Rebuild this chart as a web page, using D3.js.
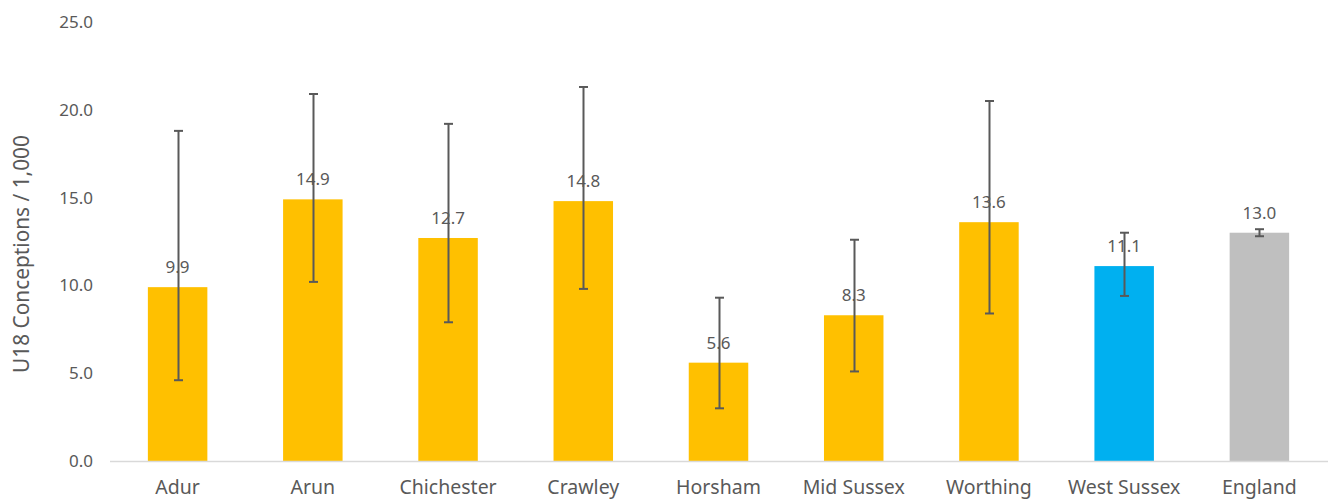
<!DOCTYPE html>
<html>
<head>
<meta charset="utf-8">
<script src="https://cdn.jsdelivr.net/npm/d3@7"></script>
<style>
  html, body { margin: 0; padding: 0; background: #fff; }
  svg { display: block; }
  text { font-family: "Noto Sans", sans-serif; fill: #595959; }
</style>
</head>
<body>
<svg id="chart" width="1330" height="501"></svg>
<script>
const categories = ["Adur", "Arun", "Chichester", "Crawley", "Horsham", "Mid Sussex", "Worthing", "West Sussex", "England"];
const values = [9.9, 14.9, 12.7, 14.8, 5.6, 8.3, 13.6, 11.1, 13.0];
const lowerCI = [4.6, 10.2, 7.9, 9.8, 3.0, 5.1, 8.4, 9.4, 12.8];
const upperCI = [18.8, 20.9, 19.2, 21.3, 9.3, 12.6, 20.5, 13.0, 13.2];
const barColors = ["#FFC000", "#FFC000", "#FFC000", "#FFC000", "#FFC000", "#FFC000", "#FFC000", "#00B0F0", "#BFBFBF"];
const yTicks = [0, 5, 10, 15, 20, 25];
const yTitle = "U18 Conceptions / 1,000";

const svg = d3.select("#chart");
const margin = { left: 110, right: 3, top: 22, bottom: 40 };
const W = 1330, H = 501;

const x = d3.scaleBand()
  .domain(categories)
  .range([margin.left, W - margin.right])
  .paddingInner(0.56)
  .paddingOuter(0.28);

const y = d3.scaleLinear()
  .domain([0, 25])
  .range([H - margin.bottom, margin.top]);

// Y axis labels (no line)
const yAxis = d3.axisLeft(y).tickValues(yTicks).tickFormat(d3.format(".1f")).tickSize(0).tickPadding(17);
const yg = svg.append("g").attr("transform", `translate(${margin.left},0)`).call(yAxis);
yg.select(".domain").remove();
yg.selectAll("text").style("font-size", "17px").style("fill", "#595959").style("font-family", "Noto Sans, sans-serif");

// Bars
svg.append("g").selectAll("rect")
  .data(categories)
  .join("rect")
  .attr("x", d => x(d))
  .attr("width", x.bandwidth())
  .attr("y", (d, i) => y(values[i]))
  .attr("height", (d, i) => y(0) - y(values[i]))
  .attr("fill", (d, i) => barColors[i]);

// Baseline
svg.append("line")
  .attr("x1", margin.left).attr("x2", W - 2)
  .attr("y1", y(0) + 0.5).attr("y2", y(0) + 0.5)
  .attr("stroke", "#D9D9D9").attr("stroke-width", 1.5);

// Data labels
svg.append("g").selectAll("text")
  .data(categories)
  .join("text")
  .attr("x", d => x(d) + x.bandwidth() / 2)
  .attr("y", (d, i) => y(values[i]) - 14)
  .attr("text-anchor", "middle")
  .style("font-size", "17px")
  .text((d, i) => values[i].toFixed(1));

// Error bars
const eg = svg.append("g").attr("stroke", "#595959").attr("stroke-width", 2);
categories.forEach((c, i) => {
  const cx = Math.round(x(c) + x.bandwidth() / 2) + 0.5;
  eg.append("line").attr("x1", cx).attr("x2", cx).attr("y1", y(upperCI[i])).attr("y2", y(lowerCI[i]));
  eg.append("line").attr("x1", cx - 4.5).attr("x2", cx + 4.5).attr("y1", y(upperCI[i])).attr("y2", y(upperCI[i]));
  eg.append("line").attr("x1", cx - 4.5).attr("x2", cx + 4.5).attr("y1", y(lowerCI[i])).attr("y2", y(lowerCI[i]));
});

// X axis labels
const xAxis = d3.axisBottom(x).tickSize(0).tickPadding(19);
const xg = svg.append("g").attr("transform", `translate(0,${y(0)})`).call(xAxis);
xg.select(".domain").remove();
xg.selectAll("text").style("font-size", "19.5px").style("fill", "#595959").style("font-family", "Noto Sans, sans-serif");

// Y title: sized so it spans ~238px centred at ~254px
const title = svg.append("text")
  .attr("text-anchor", "middle")
  .style("font-size", "19px")
  .text(yTitle);
const len = title.node().getComputedTextLength();
const fs = Math.max(16, Math.min(22, 19 * 238 / len));
title.style("font-size", fs + "px")
  .attr("transform", `translate(29,254) rotate(-90)`);
</script>
</body>
</html>
